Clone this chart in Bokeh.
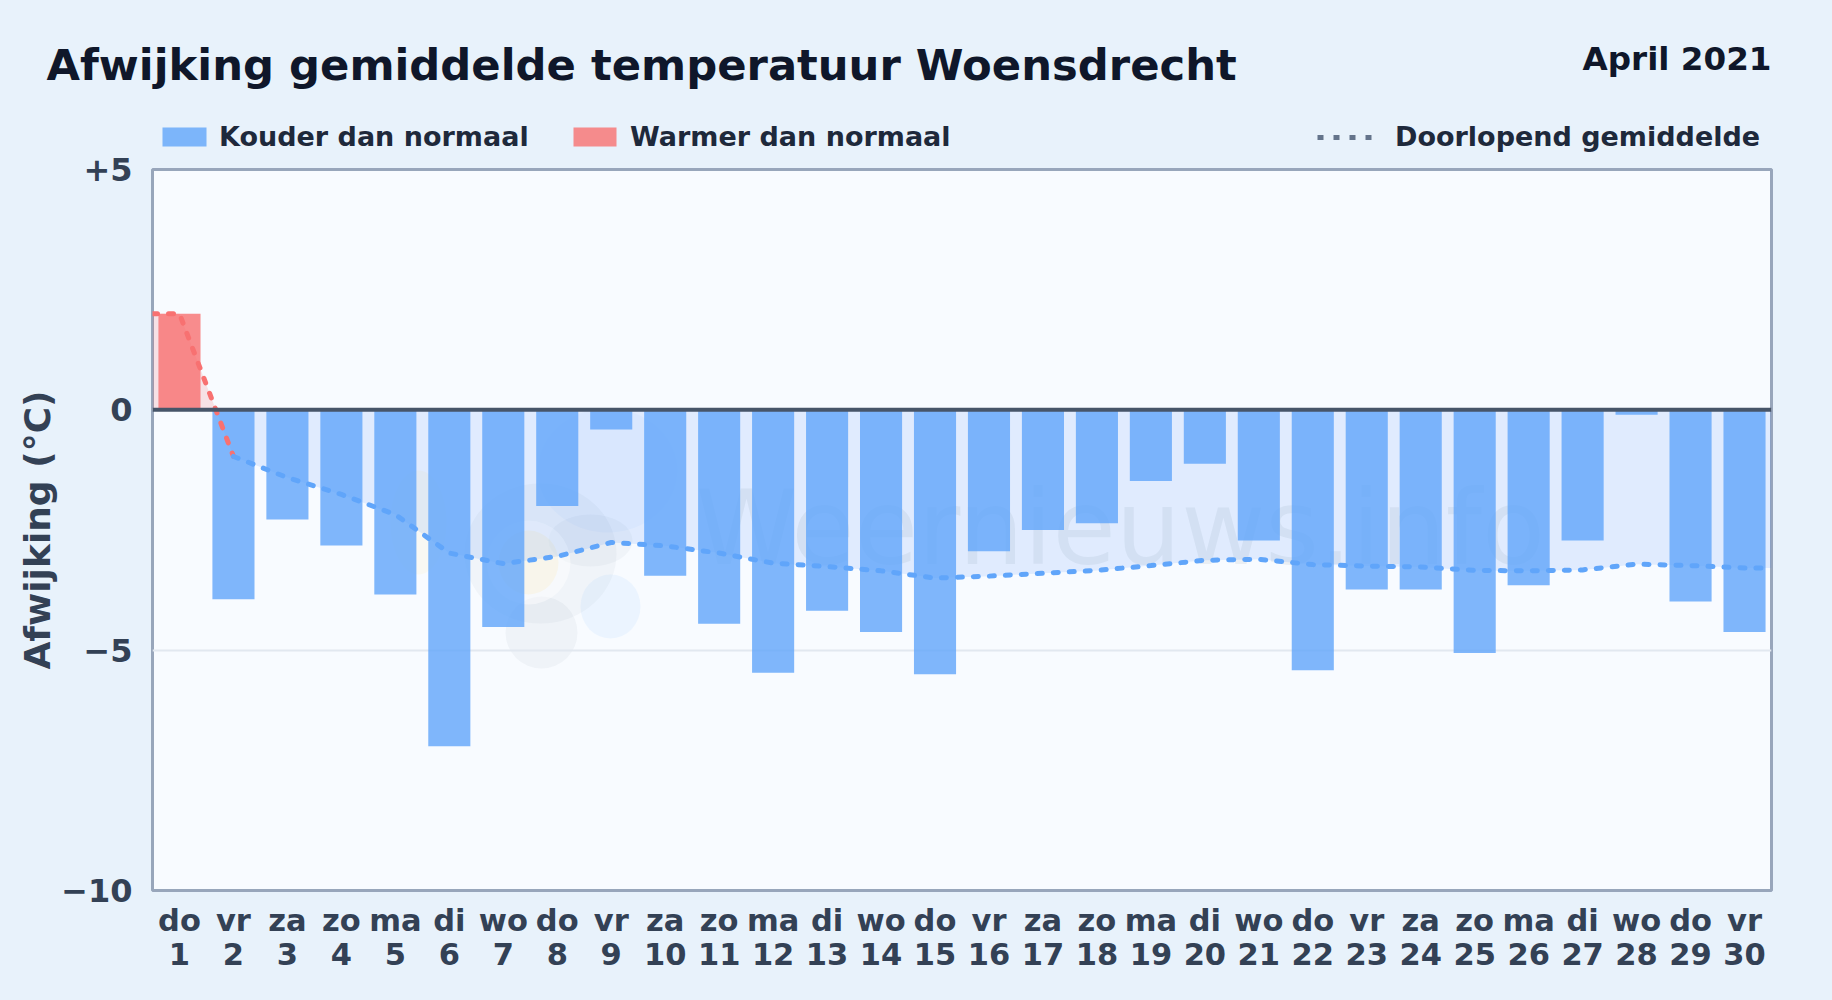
from bokeh.plotting import figure
from bokeh.layouts import column
from bokeh.models import Span, FixedTicker, Range1d, LinearAxis
from bokeh.embed import file_html
from bokeh.resources import INLINE
from bokeh.core.properties import value

days = list(range(1, 31))
weekdays = ["do","vr","za","zo","ma","di","wo","do","vr","za","zo","ma","di","wo","do",
            "vr","za","zo","ma","di","wo","do","vr","za","zo","ma","di","wo","do","vr"]
deviation = [2.0,-3.94,-2.28,-2.82,-3.84,-7.0,-4.52,-2.0,-0.41,-3.45,-4.45,-5.47,-4.18,-4.62,-5.5,
             -2.94,-2.5,-2.36,-1.48,-1.12,-2.72,-5.42,-3.74,-3.74,-5.06,-3.65,-2.72,-0.1,-3.99,-4.62]
running_mean = [2.0,-0.97,-1.41,-1.76,-2.18,-2.98,-3.2,-3.05,-2.76,-2.83,-2.98,-3.19,-3.26,-3.35,-3.5,
                -3.46,-3.4,-3.34,-3.24,-3.13,-3.11,-3.22,-3.25,-3.27,-3.34,-3.35,-3.33,-3.21,-3.24,-3.29]
y_ticks = [5, 0, -5, -10]
y_labels = ["+5", "0", "\u22125", "\u221210"]

FONT = "DejaVu Sans"
BG = "#e8f2fb"
W, H = 1832, 1000
L, R, T, B = 152, 1771, 169, 890
HEAD = 152

# ---------- header strip: title, period and legend ----------
h = figure(width=W, height=HEAD, output_backend="svg", toolbar_location=None,
           x_range=Range1d(0, W), y_range=Range1d(HEAD, 0),
           x_axis_location=None, y_axis_location=None, frame_align=False,
           min_border=0, background_fill_color=BG, border_fill_color=BG, outline_line_color=None,
           styles={"background-color": BG})
h.grid.visible = False

def head_text(x, y, text, size, color, align="left"):
    h.text([x], [y], text=[text], text_font=value(FONT), text_font_style="bold",
           text_font_size=size, text_color=color, text_align=align, text_baseline="alphabetic")

head_text(46, 64, "Afwijking gemiddelde temperatuur Woensdrecht", "43.3px", "#0f172a")
head_text(1771, 58, "April 2021", "32.6px", "#0f172a", "right")
h.quad(left=[162], right=[206], top=[127], bottom=[146], fill_color="#60a5fa", fill_alpha=0.8, line_color=None)
head_text(218.5, 136.4, "Kouder dan normaal", "27px", "#1e293b")
h.quad(left=[573], right=[616], top=[127], bottom=[146], fill_color="#f87171", fill_alpha=0.8, line_color=None)
head_text(629.5, 136.4, "Warmer dan normaal", "27px", "#1e293b")
h.line([1317, 1373], [137, 137], line_color="#64748b", line_width=5, line_dash="6 10")
head_text(1394.5, 136.4, "Doorlopend gemiddelde", "27px", "#1e293b")

# ---------- main chart ----------
p = figure(width=W, height=H - HEAD, output_backend="svg", toolbar_location=None,
           x_range=Range1d(0, 30), y_range=Range1d(-10, 5), frame_align=False,
           frame_width=R - L, frame_height=B - T,
           min_border_left=L, min_border_right=W - R, min_border_top=T - HEAD, min_border_bottom=H - B,
           background_fill_color="#f8fbff", border_fill_color=BG,
           outline_line_color="#98a6bb", outline_line_width=3,
           styles={"background-color": BG})

def dx(px):
    return (px - L) / (R - L) * 30
def dy(py):
    return 5 - (py - T) / (B - T) * 15

# faint watermark behind the bars
for cx, cy, rx, ry, col, a in [
    (607, 470, 70, 62, "#93c5fd", 0.08),
    (540, 553, 76, 70, "#64748b", 0.05),
    (541, 632, 36, 36, "#64748b", 0.06),
    (590, 540, 42, 26, "#64748b", 0.05),
    (528, 562, 42, 42, "#ffffff", 0.45),
    (528, 562, 30, 32, "#fde68a", 0.14),
    (610, 606, 30, 32, "#93c5fd", 0.12),
    (418, 522, 28, 52, "#fde68a", 0.10),
]:
    p.ellipse(x=dx(cx), y=dy(cy), width=2 * rx * 30 / (R - L), height=2 * ry * 15 / (B - T),
              fill_color=col, fill_alpha=a, line_color=None, level="underlay")
p.text([dx(695)], [dy(527)], text=["Weernieuws.info"], text_font=value(FONT), text_font_size="103px",
       text_color="#334155", text_alpha=0.07, text_align="left", text_baseline="alphabetic",
       level="underlay")

centers = [d - 0.5 for d in days]
lx = [0.0] + centers + [30.0]
ly = [running_mean[0]] + running_mean + [running_mean[-1]]

# split the running mean at its zero crossing (between day 1 and day 2)
cross = centers[0] + running_mean[0] / (running_mean[0] - running_mean[1]) * (centers[1] - centers[0])
pos_x = [0.0, centers[0], cross]
pos_y = [running_mean[0], running_mean[0], 0.0]
neg_x = [cross] + centers[1:] + [30.0]
neg_y = [0.0] + running_mean[1:] + [running_mean[-1]]
p.varea(pos_x, [0] * len(pos_x), pos_y, fill_color="#ef4444", fill_alpha=0.14, level="underlay")
p.varea(neg_x, neg_y, [0] * len(neg_x), fill_color="#3b82f6", fill_alpha=0.13, level="underlay")

cold = [(c, v) for c, v in zip(centers, deviation) if v < 0]
warm = [(c, v) for c, v in zip(centers, deviation) if v >= 0]
p.vbar(x=[c for c, _ in cold], top=0, bottom=[v for _, v in cold], width=0.78,
       fill_color="#60a5fa", fill_alpha=0.8, line_color=None)
p.vbar(x=[c for c, _ in warm], top=[v for _, v in warm], bottom=0, width=0.78,
       fill_color="#f87171", fill_alpha=0.8, line_color=None)

p.line(lx[:3], ly[:3], line_color="#f87171", line_width=5, line_dash="5 11", line_cap="round")
p.line(lx[2:], ly[2:], line_color="#60a5fa", line_width=5, line_dash="5 11", line_cap="round")

p.add_layout(Span(location=0, dimension="width", line_color="#475569", line_width=4))

# axes
def style(ax, size):
    ax.major_label_text_font = FONT
    ax.major_label_text_font_style = "bold"
    ax.major_label_text_font_size = size
    ax.major_label_text_color = "#334155"
    ax.major_tick_line_color = None
    ax.minor_tick_line_color = None
    ax.axis_line_color = None

xa = p.xaxis[0]
xa.ticker = FixedTicker(ticks=centers)
xa.major_label_overrides = dict(zip(centers, weekdays))
style(xa, "30.5px")
xa.major_label_standoff = 6

xb = LinearAxis(ticker=FixedTicker(ticks=centers),
                major_label_overrides={c: str(d) for c, d in zip(centers, days)})
style(xb, "30.5px")
xb.major_label_standoff = -4
p.add_layout(xb, "below")

ya = p.yaxis[0]
ya.ticker = FixedTicker(ticks=y_ticks)
ya.major_label_overrides = dict(zip(y_ticks, y_labels))
style(ya, "32px")
ya.major_label_standoff = 14
ya.axis_label = "Afwijking (\u00b0C)"
ya.axis_label_text_font = FONT
ya.axis_label_text_font_style = "bold"
ya.axis_label_text_font_size = "36px"
ya.axis_label_text_color = "#334155"
ya.axis_label_standoff = 0

p.xgrid.visible = False
p.ygrid.grid_line_color = "#e2e8f0"
p.ygrid.grid_line_width = 2

page = column(h, p, spacing=0, styles={"background-color": BG})
open("out.html", "w").write(file_html(page, INLINE))
